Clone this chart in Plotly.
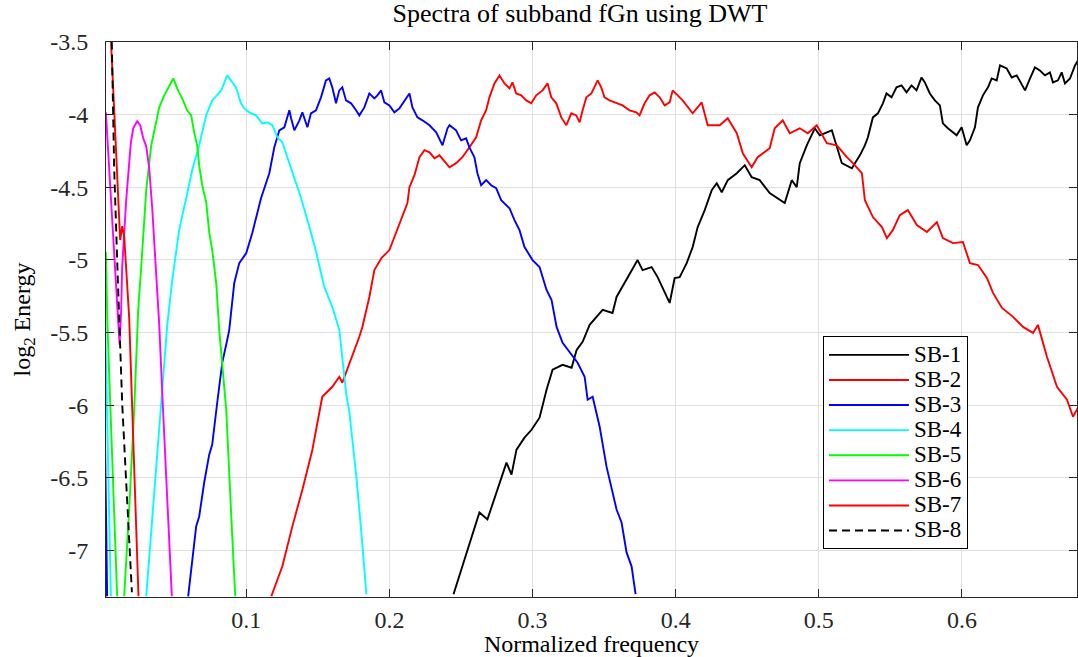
import plotly.graph_objects as go

# ---------------- data ----------------
series_names = ["SB-1", "SB-2", "SB-3", "SB-4", "SB-5", "SB-6", "SB-7", "SB-8"]

sb1_x = [0.2448, 0.2524, 0.2629, 0.2685, 0.2748, 0.2818, 0.2853, 0.2888, 0.2944, 0.2993,
         0.3049, 0.3098, 0.3140, 0.3210, 0.3273, 0.3308, 0.3350, 0.3399, 0.3490, 0.3559,
         0.3587, 0.3664, 0.3734, 0.3769, 0.3832, 0.3874, 0.3923, 0.3958, 0.3993, 0.4028,
         0.4077, 0.4119, 0.4154, 0.4203, 0.4252, 0.4287, 0.4322, 0.4364, 0.4427, 0.4483,
         0.4531, 0.4587, 0.4657, 0.4762, 0.4811, 0.4846, 0.4867, 0.4916, 0.4972, 0.5007,
         0.5091, 0.5161, 0.5231, 0.5287, 0.5322, 0.5343, 0.5378, 0.5413, 0.5448, 0.5473,
         0.5508, 0.5543, 0.5578, 0.5613, 0.5648, 0.5683, 0.5718, 0.5741, 0.5776, 0.5811,
         0.5846, 0.5867, 0.5902, 0.5937, 0.5963, 0.5998, 0.6033, 0.6056, 0.6091, 0.6112,
         0.6147, 0.6182, 0.6208, 0.6243, 0.6266, 0.6313, 0.6348, 0.6383, 0.6417, 0.6441,
         0.6476, 0.6510, 0.6545, 0.6580, 0.6615, 0.6636, 0.6671, 0.6697, 0.6720, 0.6755,
         0.6790, 0.6811]
sb1_y = [-7.301, -7.061, -6.738, -6.786, -6.594, -6.395, -6.478, -6.306, -6.223, -6.169,
         -6.086, -5.893, -5.756, -5.722, -5.742, -5.619, -5.564, -5.447, -5.344, -5.365,
         -5.255, -5.118, -5.001, -5.070, -5.049, -5.118, -5.227, -5.296, -5.124, -5.118,
         -5.022, -4.911, -4.774, -4.657, -4.520, -4.472, -4.534, -4.451, -4.403, -4.348,
         -4.431, -4.451, -4.540, -4.609, -4.451, -4.499, -4.334, -4.211, -4.094, -4.142,
         -4.108, -4.334, -4.369, -4.280, -4.211, -4.156, -4.019, -3.991, -3.922, -3.854,
         -3.881, -3.812, -3.799, -3.847, -3.799, -3.833, -3.744, -3.778, -3.854, -3.902,
         -3.936, -4.060, -4.094, -4.122, -4.142, -4.087, -4.211, -4.177, -4.087, -3.950,
         -3.867, -3.812, -3.751, -3.764, -3.661, -3.682, -3.744, -3.730, -3.785, -3.833,
         -3.751, -3.675, -3.696, -3.730, -3.709, -3.778, -3.764, -3.709, -3.785, -3.751,
         -3.661, -3.627]

sb2_x = [0.0014, 0.0021, None,
         0.1175, 0.1252, 0.1322, 0.1392, 0.1462, 0.1531, 0.1601, 0.1650, 0.1671, 0.1741,
         0.1790, 0.1811, 0.1860, 0.1895, 0.1944, 0.2000, 0.2070, 0.2126, 0.2140, 0.2175,
         0.2210, 0.2245, 0.2280, 0.2315, 0.2350, 0.2397, 0.2420, 0.2466, 0.2510, 0.2559,
         0.2606, 0.2641, 0.2676, 0.2699, 0.2734, 0.2769, 0.2804, 0.2839, 0.2860, 0.2886,
         0.2921, 0.2956, 0.2991, 0.3026, 0.3070, 0.3105, 0.3131, 0.3166, 0.3201, 0.3236,
         0.3271, 0.3306, 0.3329, 0.3350, 0.3376, 0.3411, 0.3434, 0.3455, 0.3480, 0.3503,
         0.3538, 0.3585, 0.3629, 0.3678, 0.3725, 0.3748, 0.3783, 0.3818, 0.3853, 0.3888,
         0.3923, 0.3958, 0.3979, 0.4049, 0.4119, 0.4182, 0.4224, 0.4308, 0.4364, 0.4427,
         0.4469, 0.4531, 0.4573, 0.4657, 0.4692, 0.4748, 0.4797, 0.4867, 0.4923, 0.4986,
         0.5056, 0.5126, 0.5196, 0.5238, 0.5301, 0.5322, 0.5378, 0.5441, 0.5476, 0.5517,
         0.5566, 0.5622, 0.5685, 0.5755, 0.5825, 0.5867, 0.5937, 0.6007, 0.6056, 0.6112,
         0.6175, 0.6217, 0.6280, 0.6357, 0.6427, 0.6497, 0.6531, 0.6594, 0.6664, 0.6734,
         0.6776, 0.6811]
sb2_y = [-6.992, -7.315, None,
         -7.315, -7.109, -6.834, -6.581, -6.306, -5.942, -5.873, -5.804, -5.845, -5.667,
         -5.529, -5.461, -5.255, -5.070, -4.987, -4.932, -4.747, -4.609, -4.499, -4.417,
         -4.293, -4.245, -4.259, -4.300, -4.280, -4.334, -4.362, -4.334, -4.293, -4.225,
         -4.156, -4.039, -3.970, -3.881, -3.785, -3.730, -3.785, -3.819, -3.778, -3.854,
         -3.867, -3.902, -3.922, -3.867, -3.833, -3.785, -3.881, -3.922, -4.019, -4.073,
         -3.991, -4.005, -4.053, -3.970, -3.881, -3.854, -3.812, -3.764, -3.812, -3.881,
         -3.902, -3.922, -3.936, -3.970, -3.984, -4.005, -3.922, -3.867, -3.847, -3.881,
         -3.936, -3.916, -3.833, -3.902, -3.991, -3.916, -4.073, -4.073, -4.025, -4.128,
         -4.266, -4.362, -4.293, -4.231, -4.094, -4.039, -4.128, -4.094, -4.128, -4.073,
         -4.197, -4.211, -4.293, -4.334, -4.403, -4.589, -4.705, -4.774, -4.850, -4.795,
         -4.692, -4.657, -4.760, -4.808, -4.740, -4.850, -4.884, -4.877, -5.022, -5.035,
         -5.124, -5.227, -5.330, -5.392, -5.461, -5.502, -5.447, -5.667, -5.873, -5.962,
         -6.079, -6.017]

sb3_x = [0.0014, 0.0028, None,
         0.0594, 0.0622, 0.0650, 0.0671, 0.0706, 0.0741, 0.0762, 0.0797, 0.0832, 0.0867,
         0.0881, 0.0916, 0.0951, 0.1000, 0.1042, 0.1103, 0.1161, 0.1196, 0.1231, 0.1266,
         0.1301, 0.1313, 0.1336, 0.1371, 0.1392, 0.1427, 0.1452, 0.1487, 0.1522, 0.1557,
         0.1580, 0.1601, 0.1627, 0.1650, 0.1671, 0.1697, 0.1732, 0.1767, 0.1790, 0.1825,
         0.1860, 0.1895, 0.1916, 0.1942, 0.1965, 0.2000, 0.2035, 0.2070, 0.2105, 0.2140,
         0.2161, 0.2196, 0.2231, 0.2280, 0.2327, 0.2371, 0.2406, 0.2420, 0.2466, 0.2501,
         0.2536, 0.2559, 0.2594, 0.2615, 0.2641, 0.2676, 0.2711, 0.2746, 0.2781, 0.2839,
         0.2874, 0.2909, 0.2944, 0.3000, 0.3049, 0.3098, 0.3133, 0.3168, 0.3210, 0.3259,
         0.3315, 0.3364, 0.3385, 0.3420, 0.3469, 0.3517, 0.3552, 0.3587, 0.3622, 0.3657,
         0.3692, 0.3720]
sb3_y = [-6.306, -7.315, None,
         -7.315, -7.081, -6.834, -6.766, -6.532, -6.340, -6.271, -5.983, -5.708, -5.550,
         -5.481, -5.159, -5.022, -4.953, -4.815, -4.575, -4.403, -4.225, -4.108, -4.087,
         -3.970, -4.025, -4.108, -4.039, -3.984, -4.087, -3.991, -3.970, -3.881, -3.764,
         -3.751, -3.812, -3.922, -3.833, -3.812, -3.902, -3.922, -3.970, -4.005, -3.950,
         -3.854, -3.888, -3.867, -3.833, -3.916, -3.936, -3.984, -3.957, -3.902, -3.854,
         -3.950, -4.019, -4.039, -4.073, -4.122, -4.211, -4.094, -4.073, -4.108, -4.177,
         -4.163, -4.225, -4.293, -4.403, -4.486, -4.451, -4.486, -4.506, -4.589, -4.644,
         -4.726, -4.795, -4.911, -5.001, -5.049, -5.207, -5.276, -5.461, -5.571, -5.639,
         -5.708, -5.804, -5.962, -5.942, -6.148, -6.423, -6.560, -6.718, -6.807, -7.013,
         -7.109, -7.301]

sb4_x = [0.0014, 0.0054, None,
         0.0301, 0.0378, 0.0448, 0.0483, 0.0531, 0.0580, 0.0622, 0.0671, 0.0720, 0.0762,
         0.0825, 0.0867, 0.0902, 0.0928, 0.0963, 0.0986, 0.1021, 0.1068, 0.1112, 0.1147,
         0.1182, 0.1217, 0.1252, 0.1287, 0.1322, 0.1357, 0.1383, 0.1441, 0.1490, 0.1545,
         0.1601, 0.1650, 0.1699, 0.1720, 0.1769, 0.1804, 0.1839]
sb4_y = [-5.413, -7.315, None,
         -7.315, -6.306, -5.447, -5.138, -4.795, -4.575, -4.383, -4.211, -4.005, -3.902,
         -3.833, -3.730, -3.778, -3.812, -3.922, -3.957, -3.984, -4.005, -4.060, -4.053,
         -4.073, -4.156, -4.190, -4.293, -4.403, -4.506, -4.575, -4.774, -4.953, -5.186,
         -5.323, -5.481, -5.928, -6.045, -6.491, -6.876, -7.301]

sb5_x = [0.0019, 0.0030, 0.0098, None,
         0.0147, 0.0182, 0.0217, 0.0245, 0.0266, 0.0301, 0.0336, 0.0371, 0.0392, 0.0427,
         0.0462, 0.0490, 0.0517, 0.0552, 0.0587, 0.0615, 0.0636, 0.0657, 0.0671, 0.0692,
         0.0720, 0.0741, 0.0762, 0.0790, 0.0811, 0.0860, 0.0902, 0.0923]
sb5_y = [-4.946, -5.447, -7.315, None,
         -7.315, -6.718, -6.031, -5.344, -5.049, -4.520, -4.211, -4.053, -3.950, -3.867,
         -3.799, -3.751, -3.819, -3.888, -3.970, -4.005, -4.122, -4.211, -4.348, -4.486,
         -4.602, -4.808, -4.932, -5.159, -5.481, -6.031, -6.903, -7.315]

sb6_x = [0.0019, 0.0042, 0.0070, 0.0098, 0.0115, 0.0126, 0.0133, 0.0161, 0.0194, 0.0210,
         0.0238, 0.0259, 0.0280, 0.0301, 0.0322, 0.0343, 0.0369, 0.0392, 0.0413, 0.0448,
         0.0480]
sb6_y = [-3.984, -4.383, -4.864, -5.344, -5.584, -5.344, -5.049, -4.589, -4.190, -4.094,
         -4.046, -4.073, -4.163, -4.218, -4.369, -4.644, -5.056, -5.447, -5.914, -6.601,
         -7.315]

sb7_x = [0.0028, 0.0054, 0.0112, 0.0119, 0.0133, 0.0147, 0.0182, 0.0205, 0.0229, 0.0247]
sb7_y = [-2.920, -3.503, -4.808, -4.863, -4.767, -4.836, -5.399, -6.031, -6.718, -7.315]

sb8_x = [0.0052, 0.0061, 0.0077, 0.0100, 0.0112, 0.0133, 0.0159, 0.0182, 0.0201]
sb8_y = [-3.050, -3.503, -4.369, -5.056, -5.427, -5.983, -6.491, -6.945, -7.287]

x_tick_vals = [0.1, 0.2, 0.3, 0.4, 0.5, 0.6]
x_tick_text = ["0.1", "0.2", "0.3", "0.4", "0.5", "0.6"]
y_tick_vals = [-7.0, -6.5, -6.0, -5.5, -5.0, -4.5, -4.0, -3.5]
y_tick_text = ["-7", "-6.5", "-6", "-5.5", "-5", "-4.5", "-4", "-3.5"]

# ---------------- styling ----------------
series_x = [sb1_x, sb2_x, sb3_x, sb4_x, sb5_x, sb6_x, sb7_x, sb8_x]
series_y = [sb1_y, sb2_y, sb3_y, sb4_y, sb5_y, sb6_y, sb7_y, sb8_y]
colors = ["#000000", "#ff0000", "#0000ff", "#00ffff", "#00ff00", "#ff00ff", "#ff0000", "#000000"]
dashes = ["solid"] * 7 + ["8px,5px"]

FONT = "Liberation Serif, Times New Roman, serif"
AXIS_COLOR = "#262626"
GRID_COLOR = "#dfdfdf"

fig = go.Figure()
for name, xs, ys, c, d in zip(series_names, series_x, series_y, colors, dashes):
    fig.add_trace(go.Scatter(
        x=xs, y=ys, mode="lines",
        name='<span style="font-size:23px">' + name + '</span>',
        line=dict(color=c, width=1.9, dash=d),
        connectgaps=False,
    ))

axis_common = dict(
    showline=True, linecolor=AXIS_COLOR, linewidth=1, mirror="ticks",
    ticks="inside", ticklen=8, tickcolor=AXIS_COLOR, tickwidth=1,
    showgrid=True, gridcolor=GRID_COLOR, gridwidth=1, zeroline=False,
    tickfont=dict(family=FONT, size=24, color=AXIS_COLOR),
)

fig.update_xaxes(
    range=[0.002, 0.6804], tickmode="array", tickvals=x_tick_vals, ticktext=x_tick_text,
    title=dict(text="Normalized frequency", font=dict(family=FONT, size=24, color="#000000"), standoff=0),
    ticklabelstandoff=1,
    **axis_common,
)
fig.update_yaxes(
    range=[-7.32, -3.5], tickmode="array", tickvals=y_tick_vals, ticktext=y_tick_text,
    title=dict(text="log<sub>2</sub> Energy", font=dict(family=FONT, size=24, color="#000000"), standoff=12),
    ticklabelstandoff=12,
    **axis_common,
)

fig.update_layout(
    width=1078, height=657,
    margin=dict(l=106, r=1, t=42, b=60, autoexpand=False),
    paper_bgcolor="white", plot_bgcolor="white",
    font=dict(family=FONT, color="#000000"),
    title=dict(
        text="Spectra of subband fGn using DWT",
        font=dict(family=FONT, size=26, color="#000000"),
        x=0.538, xref="container", xanchor="center",
        y=1 - 13 / 657, yref="container", yanchor="middle",
    ),
    showlegend=True,
    legend=dict(
        x=0.7384, y=0.4697, xanchor="left", yanchor="top",
        bgcolor="white", bordercolor="#000000", borderwidth=1,
        font=dict(family=FONT, size=17, color="#000000"),
        itemwidth=80, tracegroupgap=0,
    ),
)

fig.write_html("out.html", config={"displayModeBar": False},
               post_script="document.body.style.margin='0';")
